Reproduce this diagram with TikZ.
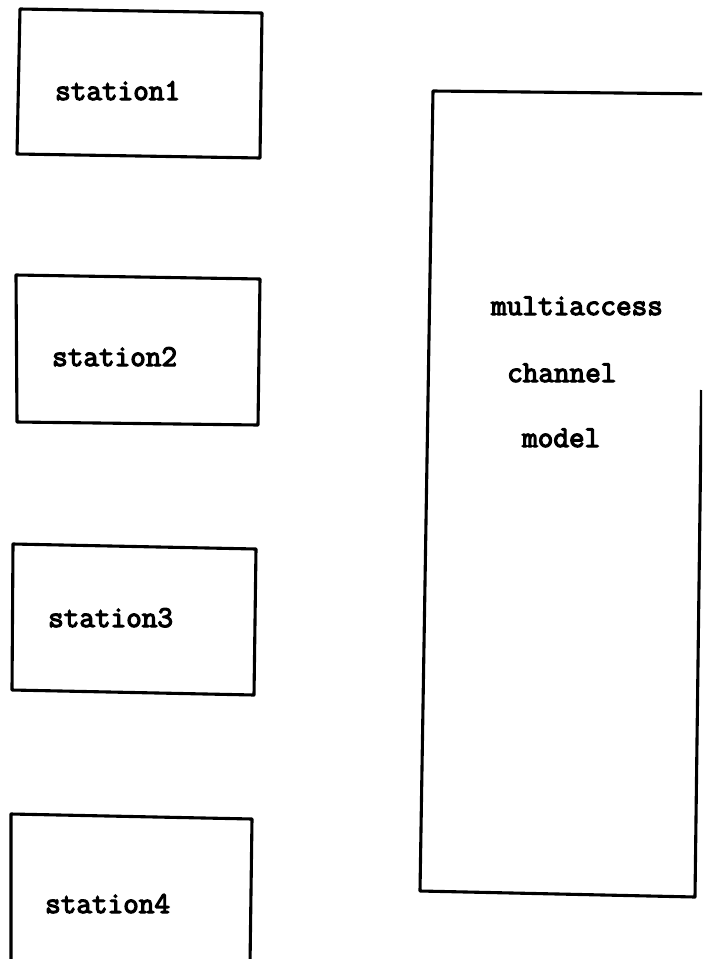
\documentclass[tikz,border=0pt]{standalone}
\usepackage{fontspec}
\newfontfamily\typewr{Latin Modern Mono}[FakeBold=4]
\begin{document}
\begin{tikzpicture}[x=1pt,y=-1pt,
  boxline/.style={draw=black,line width=3.1pt,line join=round},
  lbl/.style={inner sep=0pt,anchor=base west,font=\typewr\fontsize{30.3}{34}\selectfont}]
\useasboundingbox (0,0) rectangle (702,959);
\clip (0,0) rectangle (702,959);
\fill[white] (0,0) rectangle (702,959);
% station boxes
\draw[boxline] (20,9) -- (262,13) -- (260,158) -- (17,154) -- cycle;
\draw[boxline] (16,275) -- (260,279) -- (258,425) -- (17,422) -- cycle;
\draw[boxline] (13,544) -- (256,549) -- (254,695) -- (12,690) -- cycle;
\draw[boxline] (11,814) -- (252,819) -- (250,965) -- (11,962) -- cycle;
% channel box (cut by page edge)
\draw[boxline] (712,94) -- (433,91) -- (420,891) -- (695,897) -- (701.5,390);
% labels
\node[lbl] (s1) at (55,100) {station1};
\node[lbl] (s2) at (52,366) {station2};
\node[lbl] (s3) at (48,627) {station3};
\node[lbl] (s4) at (45,913) {station4};
\node[lbl] (m1) at (491,315) {multiaccess};
\node[lbl] (m2) at (507,382) {channel};
\node[lbl] (m3) at (522,447) {model};
\end{tikzpicture}
\end{document}
